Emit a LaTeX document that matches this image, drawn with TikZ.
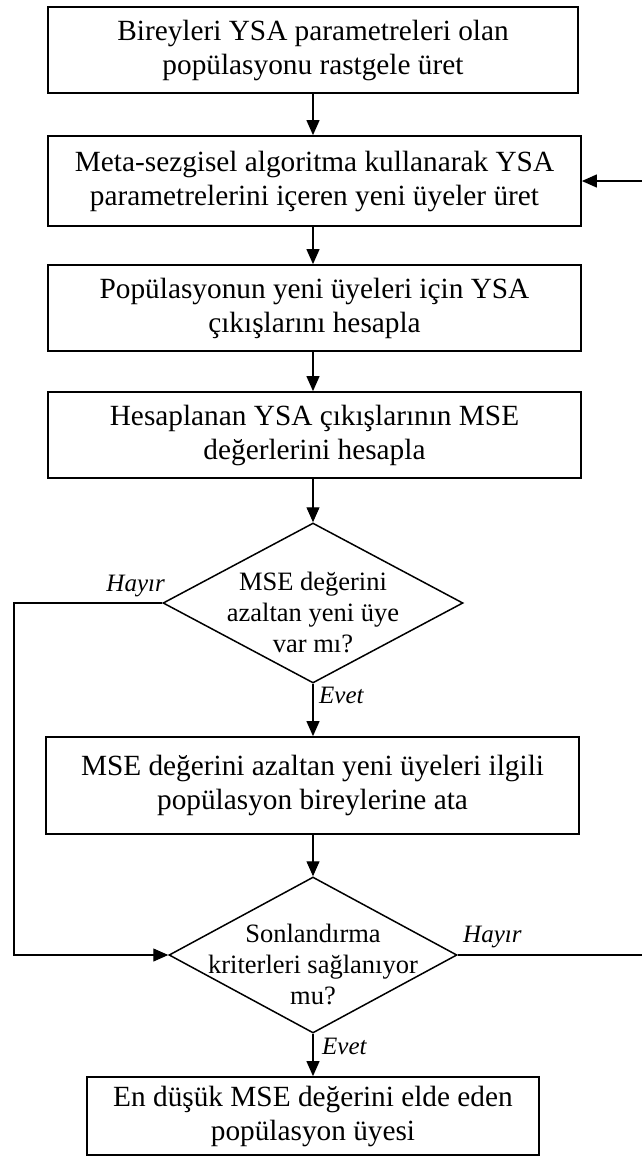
\documentclass[tikz,border=0pt]{standalone}
\usepackage{fontspec}
\setmainfont{Liberation Serif}
\usetikzlibrary{arrows.meta,shapes.geometric}

\tikzset{
  procbox/.style={draw, line width=1.8pt, rectangle, inner sep=0pt, align=center,
    font=\fontsize{29.3}{34}\selectfont},
  decbox/.style={draw, line width=1.5pt, diamond, inner sep=0pt, aspect=1.8},
  flow/.style={line width=1.2pt, -{Triangle[length=15pt,width=13pt]}},
  plain/.style={line width=1.2pt},
  lbl/.style={font=\fontsize{25}{30}\selectfont\itshape, inner sep=0pt},
  dtext/.style={align=center, font=\fontsize{26.5}{31}\selectfont, yshift=-9pt}
}

\begin{document}
\begin{tikzpicture}[x=1pt,y=-1pt]
\useasboundingbox (0,0) rectangle (642,1157);

% process steps
\node[procbox, minimum width=530pt, minimum height=86pt] (b1) at (313,50)
  {Bireyleri YSA parametreleri olan\\popülasyonu rastgele üret};
\node[procbox, minimum width=533pt, minimum height=90pt] (b2) at (314.5,181)
  {Meta-sezgisel algoritma kullanarak YSA\\parametrelerini içeren yeni üyeler üret};
\node[procbox, minimum width=533pt, minimum height=86pt] (b3) at (314.5,308)
  {Popülasyonun yeni üyeleri için YSA\\çıkışlarını hesapla};
\node[procbox, minimum width=533pt, minimum height=86pt] (b4) at (314.5,435)
  {Hesaplanan YSA çıkışlarının MSE\\değerlerini hesapla};

% first decision
\node[decbox, minimum width=300pt, minimum height=160pt,
  label={[dtext]center:MSE değerini\\azaltan yeni üye\\var mı?}] (d1) at (313,603) {};

\node[procbox, minimum width=533pt, minimum height=97pt] (b5) at (312.5,785.5)
  {MSE değerini azaltan yeni üyeleri ilgili\\popülasyon bireylerine ata};

% termination check
\node[decbox, minimum width=288pt, minimum height=156pt,
  label={[dtext]center:Sonlandırma\\kriterleri sağlanıyor\\mu?}] (d2) at (313,955) {};

\node[procbox, minimum width=452pt, minimum height=78pt] (b6) at (313,1116)
  {En düşük MSE değerini elde eden\\popülasyon üyesi};

% loop corners
\coordinate (l1) at (14,603);
\coordinate (l2) at (14,955);
\coordinate (r1) at (642,181);
\coordinate (r2) at (642,955);

% main flow
\draw[flow] (b1.south -| d1) -- (b2.north -| d1);
\draw[flow] (b2.south -| d1) -- (b3.north -| d1);
\draw[flow] (b3.south -| d1) -- (b4.north -| d1);
\draw[flow] (b4.south -| d1) -- (d1.north);
\draw[flow] (d1.south) -- (b5.north -| d1);
\draw[flow] (b5.south -| d1) -- (d2.north);
\draw[flow] (d2.south) -- (b6.north);

% branches
\draw[flow] (d1.west) -- (l1) -- (l2) -- (d2.west);
\draw[plain] (d2.east) -- (r2);
\draw[flow] (r1) -- (b2.east);

% branch labels
\node[lbl, anchor=base east] (h1) at (165,591) {Hayır};
\node[lbl, anchor=base west] (e1) at (319,703) {Evet};
\node[lbl, anchor=base west] (h2) at (463,942) {Hayır};
\node[lbl, anchor=base west] (e2) at (322,1054) {Evet};
\end{tikzpicture}
\end{document}
